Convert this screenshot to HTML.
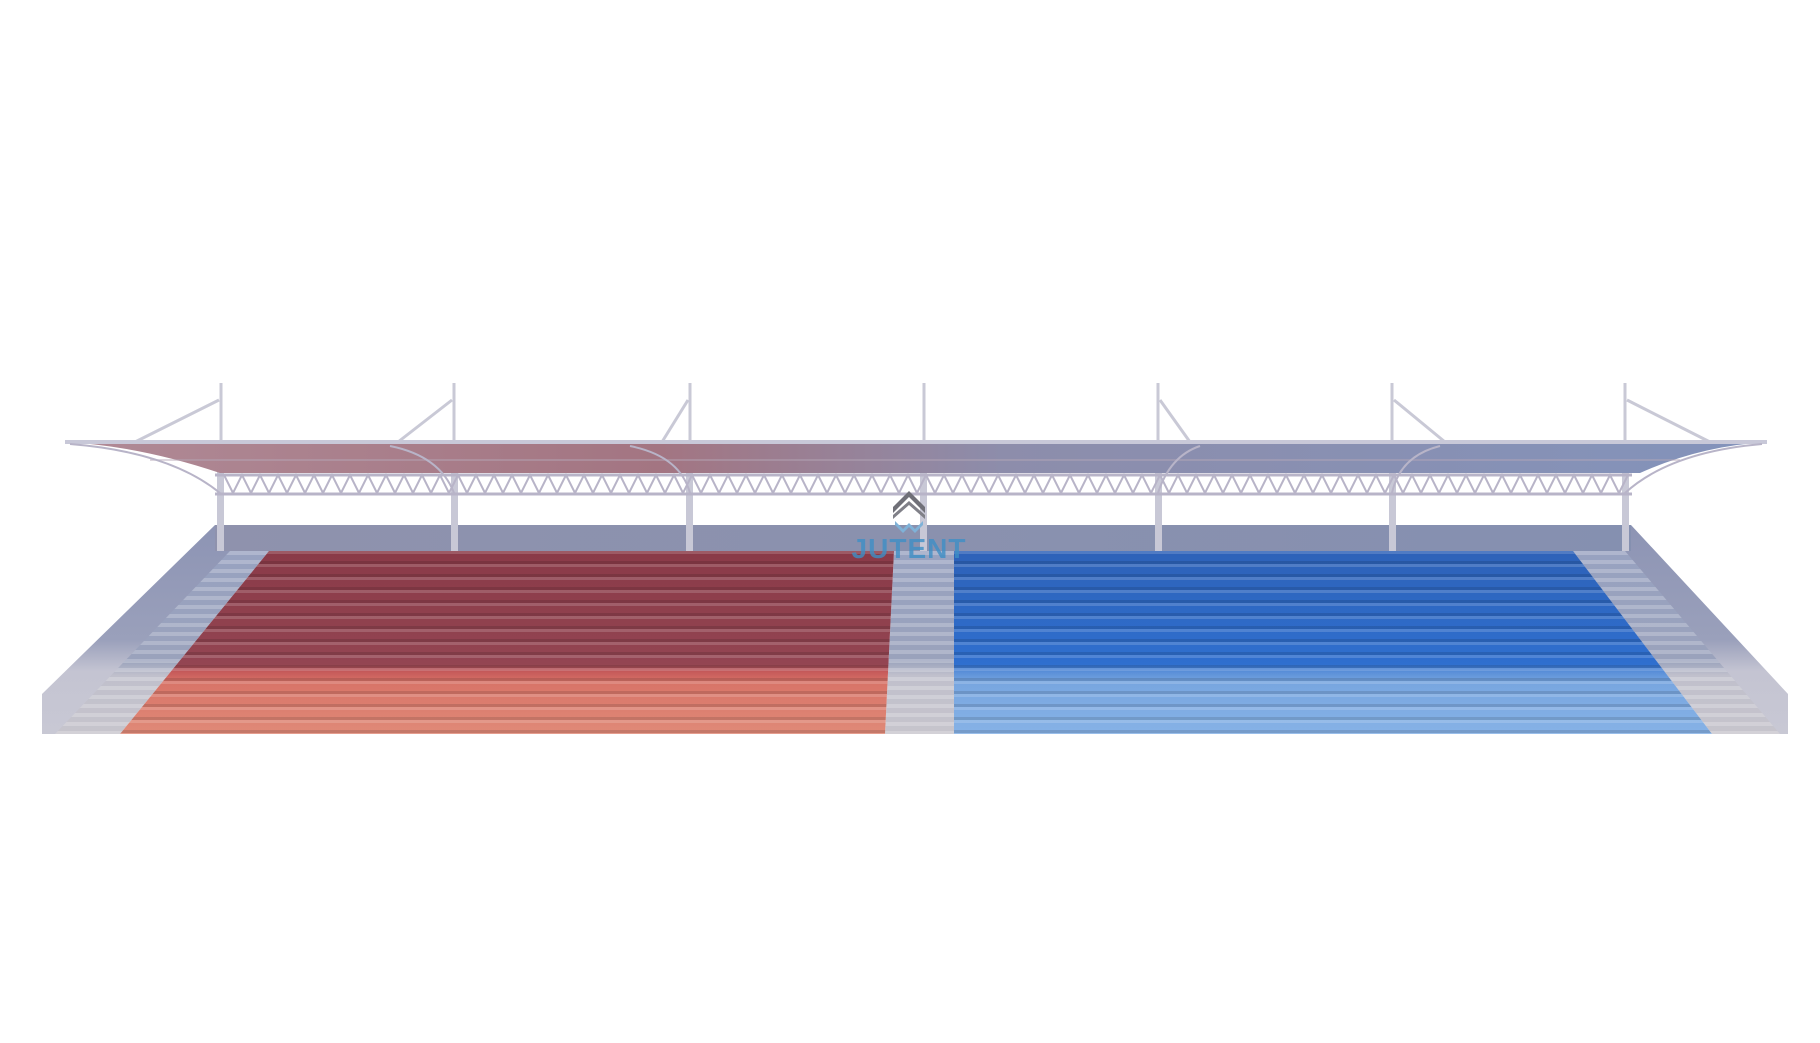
<!DOCTYPE html>
<html><head><meta charset="utf-8"><style>
html,body{margin:0;padding:0;background:#fff;}
svg{display:block;}
</style></head><body>
<svg width="1820" height="1043" viewBox="0 0 1820 1043" xmlns="http://www.w3.org/2000/svg">
<defs>
<linearGradient id="roof" x1="0" x2="1" y1="0" y2="0">
<stop offset="0" stop-color="#b08a96"/><stop offset="0.35" stop-color="#a37582"/><stop offset="0.55" stop-color="#8d8dab"/><stop offset="1" stop-color="#8393bb"/>
</linearGradient>
<linearGradient id="red" x1="0" x2="0" y1="0" y2="1">
<stop offset="0" stop-color="#8a3a48"/><stop offset="0.62" stop-color="#934552"/><stop offset="0.66" stop-color="#c65a5a"/><stop offset="0.72" stop-color="#d87468"/><stop offset="1" stop-color="#e08a78"/>
</linearGradient>
<linearGradient id="blue" x1="0" x2="0" y1="0" y2="1">
<stop offset="0" stop-color="#2e62b8"/><stop offset="0.62" stop-color="#2f6fcf"/><stop offset="0.66" stop-color="#5a8fd8"/><stop offset="0.72" stop-color="#78a6e0"/><stop offset="1" stop-color="#86b2e6"/>
</linearGradient>
<linearGradient id="wall" x1="0" x2="1" y1="0" y2="0">
<stop offset="0" stop-color="#8f92ad"/><stop offset="1" stop-color="#8590b0"/>
</linearGradient>
<linearGradient id="sidel" x1="0" x2="0" y1="0" y2="1">
<stop offset="0" stop-color="#8d94b4"/><stop offset="0.55" stop-color="#9aa0bb"/><stop offset="0.7" stop-color="#c4c4d2"/><stop offset="1" stop-color="#c8c8d4"/>
</linearGradient>
<linearGradient id="stair" x1="0" x2="0" y1="0" y2="1">
<stop offset="0" stop-color="#98a2c0"/><stop offset="0.6" stop-color="#9aa2bc"/><stop offset="0.68" stop-color="#c0c0cc"/><stop offset="1" stop-color="#c6c4cc"/>
</linearGradient>
<pattern id="rows" width="10" height="13" patternUnits="userSpaceOnUse" y="551">
<rect y="0" width="10" height="3" fill="#fff" opacity="0.16"/>
<rect y="10" width="10" height="3" fill="#000" opacity="0.12"/>
</pattern>
<pattern id="steps" width="10" height="9" patternUnits="userSpaceOnUse" y="551">
<rect width="10" height="4" fill="#fff" opacity="0.22"/>
</pattern>
</defs>

<g stroke="#c9c9d6" stroke-width="3" fill="none">
<line x1="221" y1="383" x2="221" y2="445"/><line x1="219" y1="400" x2="135" y2="442"/>
<line x1="454" y1="383" x2="454" y2="445"/><line x1="452" y1="400" x2="398" y2="442"/>
<line x1="690" y1="383" x2="690" y2="445"/><line x1="688" y1="400" x2="662" y2="442"/>
<line x1="924" y1="383" x2="924" y2="445"/>
<line x1="1158" y1="383" x2="1158" y2="445"/><line x1="1160" y1="400" x2="1190" y2="442"/>
<line x1="1392" y1="383" x2="1392" y2="445"/><line x1="1394" y1="400" x2="1445" y2="442"/>
<line x1="1625" y1="383" x2="1625" y2="445"/><line x1="1627" y1="400" x2="1710" y2="442"/>
</g>

<rect x="215" y="525" width="1416" height="28" fill="url(#wall)"/>
<polygon points="215,525 42,694 42,734 120,734 233,551 215,551" fill="url(#sidel)"/>
<polygon points="230,551 269,551 120,734 55,734" fill="url(#stair)"/>
<polygon points="230,551 269,551 120,734 55,734" fill="url(#steps)"/>
<polygon points="1631,525 1788,694 1788,734 1712,734 1573,551 1631,551" fill="url(#sidel)"/>
<polygon points="1573,551 1625,551 1780,734 1712,734" fill="url(#stair)"/>
<polygon points="1573,551 1625,551 1780,734 1712,734" fill="url(#steps)"/>
<polygon points="894,551 954,551 954,734 885,734" fill="url(#stair)"/>
<polygon points="894,551 954,551 954,734 885,734" fill="url(#steps)"/>
<polygon points="269,551 894,551 885,734 120,734" fill="url(#red)"/>
<polygon points="269,551 894,551 885,734 120,734" fill="url(#rows)"/>
<polygon points="954,551 1573,551 1712,734 954,734" fill="url(#blue)"/>
<polygon points="954,551 1573,551 1712,734 954,734" fill="url(#rows)"/>

<g fill="#c8c8d6">
<rect x="217" y="470" width="7" height="81"/>
<rect x="451" y="470" width="7" height="81"/>
<rect x="686" y="470" width="7" height="81"/>
<rect x="920" y="470" width="7" height="81"/>
<rect x="1155" y="470" width="7" height="81"/>
<rect x="1389" y="470" width="7" height="81"/>
<rect x="1622" y="470" width="7" height="81"/>
</g>

<path d="M65,442 L1767,442 Q1700,446 1640,473 L220,473 Q140,446 65,442 Z" fill="url(#roof)"/>
<path d="M65,442 L1767,442" stroke="#c8c8d8" stroke-width="4"/>
<path d="M150,460 L1680,460" stroke="#b6a8b8" stroke-width="1.5" opacity="0.6"/>
<g stroke="#b8b4c8" stroke-width="2" fill="none">
<line x1="215" y1="475" x2="1632" y2="475" stroke-width="3"/>
<line x1="215" y1="494" x2="1632" y2="494" stroke-width="3"/>
<polyline points="224,475 233,493 242,475 251,493 260,475 269,493 278,475 287,493 296,475 305,493 314,475 323,493 332,475 341,493 350,475 359,493 368,475 377,493 386,475 395,493 404,475 413,493 422,475 431,493 440,475 449,493 458,475 467,493 476,475 485,493 494,475 503,493 512,475 521,493 530,475 539,493 548,475 557,493 566,475 575,493 584,475 593,493 602,475 611,493 620,475 629,493 638,475 647,493 656,475 665,493 674,475 683,493 692,475 701,493 710,475 719,493 728,475 737,493 746,475 755,493 764,475 773,493 782,475 791,493 800,475 809,493 818,475 827,493 836,475 845,493 854,475 863,493 872,475 881,493 890,475 899,493 908,475 917,493 926,475 935,493 944,475 953,493 962,475 971,493 980,475 989,493 998,475 1007,493 1016,475 1025,493 1034,475 1043,493 1052,475 1061,493 1070,475 1079,493 1088,475 1097,493 1106,475 1115,493 1124,475 1133,493 1142,475 1151,493 1160,475 1169,493 1178,475 1187,493 1196,475 1205,493 1214,475 1223,493 1232,475 1241,493 1250,475 1259,493 1268,475 1277,493 1286,475 1295,493 1304,475 1313,493 1322,475 1331,493 1340,475 1349,493 1358,475 1367,493 1376,475 1385,493 1394,475 1403,493 1412,475 1421,493 1430,475 1439,493 1448,475 1457,493 1466,475 1475,493 1484,475 1493,493 1502,475 1511,493 1520,475 1529,493 1538,475 1547,493 1556,475 1565,493 1574,475 1583,493 1592,475 1601,493 1610,475 1619,493 1628,475"/>
<path d="M70,444 Q170,452 220,493"/>
<path d="M390,446 Q440,456 454,493"/><path d="M630,446 Q680,456 690,493"/>
<path d="M1200,446 Q1170,456 1158,493"/><path d="M1440,446 Q1400,456 1392,493"/>
<path d="M1762,444 Q1670,452 1625,493"/>
</g>

<g transform="translate(909,505)">
<polygon points="-16,2 0,-14 16,2 16,8 0,-8 -16,8" fill="#707078"/>
<polygon points="-16,10 0,-4 16,10 16,14 0,0 -16,14" fill="#808088"/>
<polygon points="-14,16 -6,24 0,18 6,24 14,16 14,20 6,28 0,22 -6,28 -14,20" fill="#7fb2d8"/>
</g>
<text x="909" y="558" text-anchor="middle" font-family="Liberation Sans, sans-serif" font-size="28" font-weight="bold" fill="#3e8fc6" opacity="0.8" letter-spacing="1">JUTENT</text>
</svg>
</body></html>
